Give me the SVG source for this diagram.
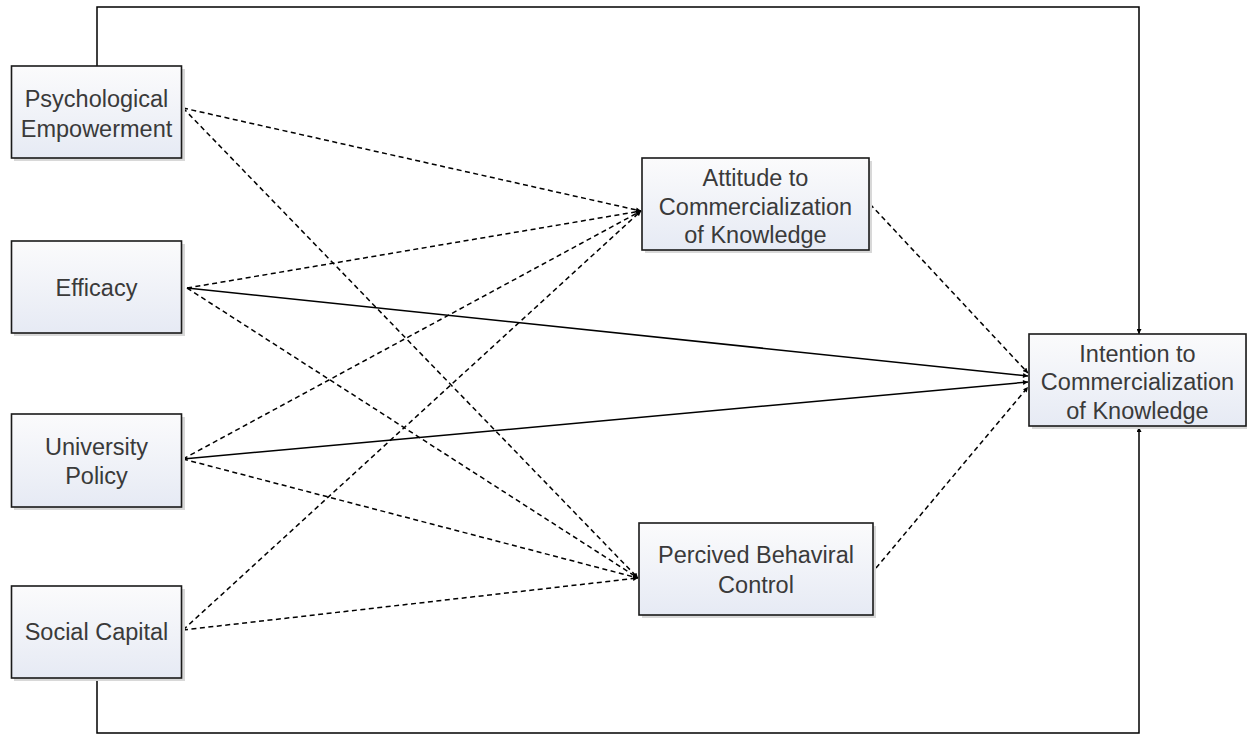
<svg xmlns="http://www.w3.org/2000/svg" width="1247" height="736" viewBox="0 0 1247 736">
<defs>
<linearGradient id="g" x1="0" y1="0" x2="0" y2="1">
<stop offset="0" stop-color="#fbfbfc"/>
<stop offset="1" stop-color="#e6eaf4"/>
</linearGradient>
<marker id="a" viewBox="0 0 10 10" refX="10" refY="5" markerWidth="6" markerHeight="5" markerUnits="userSpaceOnUse" orient="auto">
<path d="M0,0 L10,5 L0,10 z" fill="#000"/>
</marker>
<style>
.sh{fill:#d8d8d8}
.bx{fill:url(#g);stroke:#1a1a1a;stroke-width:1.6}
.t{font-family:"Liberation Sans",Arial,sans-serif;font-size:23.5px;fill:#3a3a3a;text-anchor:middle}
.d{fill:none;stroke:#000;stroke-width:1.5;stroke-dasharray:5 3.5;marker-end:url(#a)}
.s{fill:none;stroke:#000;stroke-width:1.5;marker-end:url(#a)}
</style>
</defs>
<rect width="1247" height="736" fill="#fff"/>
<g id="connectors">
<polyline class="s" points="97,66 97,7 1139,7 1139,334"/>
<polyline class="s" points="97,678 97,733 1139,733 1139,427"/>
<line class="d" x1="183" y1="108" x2="641" y2="211"/>
<line class="d" x1="183" y1="108" x2="638" y2="578"/>
<line class="d" x1="187" y1="288" x2="641" y2="211"/>
<line class="d" x1="187" y1="288" x2="638" y2="578"/>
<line class="s" x1="187" y1="288" x2="1028" y2="376"/>
<line class="d" x1="183" y1="459" x2="641" y2="211"/>
<line class="d" x1="183" y1="459" x2="638" y2="578"/>
<line class="s" x1="183" y1="459" x2="1028" y2="382"/>
<line class="d" x1="183" y1="630" x2="641" y2="211"/>
<line class="d" x1="183" y1="630" x2="638" y2="578"/>
<line class="d" x1="870" y1="204" x2="1028" y2="373"/>
<line class="d" x1="876" y1="568" x2="1028" y2="387"/>
</g>
<g id="psychological-empowerment">
<rect class="sh" x="14" y="69" width="171" height="92"/>
<rect class="bx" x="11.5" y="66" width="170" height="92"/>
<text class="t" x="96.5" y="107">Psychological</text>
<text class="t" x="96.5" y="137">Empowerment</text>
</g>
<g id="efficacy">
<rect class="sh" x="14" y="244" width="171" height="92"/>
<rect class="bx" x="11.5" y="241" width="170" height="92"/>
<text class="t" x="96.5" y="296">Efficacy</text>
</g>
<g id="university-policy">
<rect class="sh" x="14" y="417" width="171" height="93"/>
<rect class="bx" x="11.5" y="414" width="170" height="93"/>
<text class="t" x="96.5" y="455">University</text>
<text class="t" x="96.5" y="483.5">Policy</text>
</g>
<g id="social-capital">
<rect class="sh" x="14" y="589" width="171" height="92"/>
<rect class="bx" x="11.5" y="586" width="170" height="92"/>
<text class="t" x="96.5" y="640">Social Capital</text>
</g>
<g id="attitude">
<rect class="sh" x="645" y="161" width="227" height="92"/>
<rect class="bx" x="642" y="158" width="227" height="92"/>
<text class="t" x="755.5" y="186">Attitude to</text>
<text class="t" x="755.5" y="214.5">Commercialization</text>
<text class="t" x="755.5" y="243">of Knowledge</text>
</g>
<g id="perceived-behavioral-control">
<rect class="sh" x="642" y="526" width="234" height="92"/>
<rect class="bx" x="639" y="523" width="234" height="92"/>
<text class="t" x="756" y="563">Percived Behaviral</text>
<text class="t" x="756" y="593">Control</text>
</g>
<g id="intention">
<rect class="sh" x="1032" y="337" width="215" height="92"/>
<rect class="bx" x="1029" y="334" width="217" height="92"/>
<text class="t" x="1137.5" y="361.5">Intention to</text>
<text class="t" x="1137.5" y="390">Commercialization</text>
<text class="t" x="1137.5" y="418.5">of Knowledge</text>
</g>
</svg>
